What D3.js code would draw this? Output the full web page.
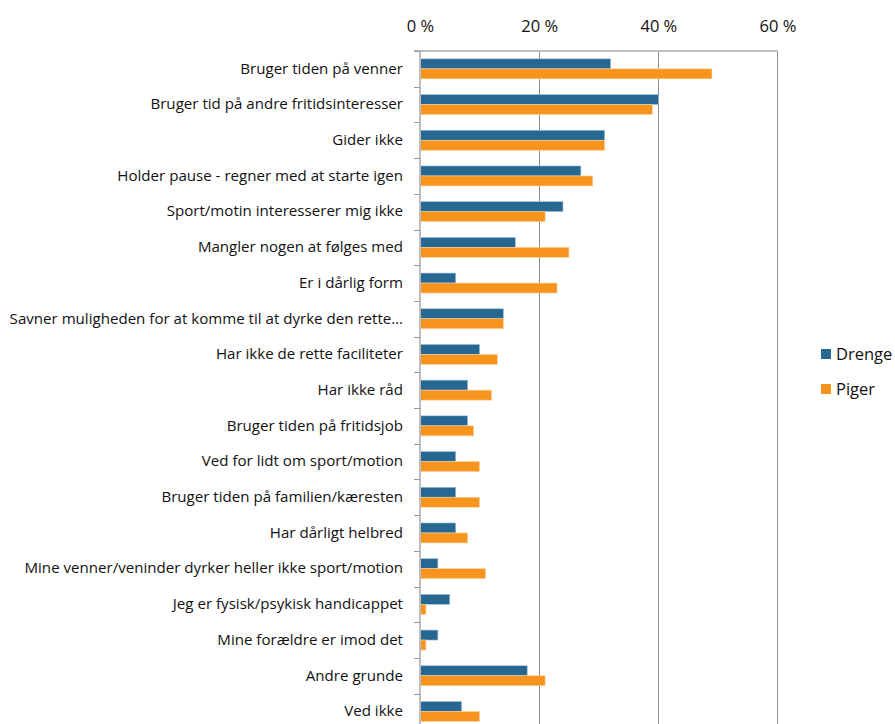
<!DOCTYPE html>
<html><head><meta charset="utf-8">
<script src="https://cdn.jsdelivr.net/npm/d3@7"></script>
<style>body{margin:0;background:#fff;} svg{display:block;}</style>
</head><body>
<svg id="c" width="895" height="724"></svg>
<script>
const categories = [
 "Bruger tiden på venner",
 "Bruger tid på andre fritidsinteresser",
 "Gider ikke",
 "Holder pause - regner med at starte igen",
 "Sport/motin interesserer mig ikke",
 "Mangler nogen at følges med",
 "Er i dårlig form",
 "Savner muligheden for at komme til at dyrke den rette…",
 "Har ikke de rette faciliteter",
 "Har ikke råd",
 "Bruger tiden på fritidsjob",
 "Ved for lidt om sport/motion",
 "Bruger tiden på familien/kæresten",
 "Har dårligt helbred",
 "Mine venner/veninder dyrker heller ikke sport/motion",
 "Jeg er fysisk/psykisk handicappet",
 "Mine forældre er imod det",
 "Andre grunde",
 "Ved ikke"
];
const drenge = [32,40,31,27,24,16,6,14,10,8,8,6,6,6,3,5,3,18,7];
const piger  = [49,39,31,29,21,25,23,14,13,12,9,10,10,8,11,1,1,21,10];
const seriesNames = ["Drenge","Piger"];
const xTicks = [0,20,40,60];
const colors = ["#266892","#F7941D"];

const svg = d3.select("#c");
const font = "'Open Sans', sans-serif";
const x0 = 420, x1 = 777.5, yTop = 51, band = 35.7;
const x = d3.scaleLinear().domain([0,60]).range([x0,x1]);
const y = d3.scaleBand().domain(categories).range([yTop, yTop + band*categories.length]).paddingInner(0).paddingOuter(0);
const sub = d3.scaleBand().domain(seriesNames).range([0, 20]);

// vertical gridlines
svg.append("g").selectAll("line").data(xTicks.slice(1)).join("line")
  .attr("x1", d=>x(d)).attr("x2", d=>x(d)).attr("y1", yTop).attr("y2", 724)
  .attr("stroke", "#8c8c8c").attr("stroke-width", 1).attr("shape-rendering","crispEdges");

// top line
svg.append("line").attr("x1", 414).attr("x2", x1).attr("y1", yTop).attr("y2", yTop)
  .attr("stroke","#bdbdbd").attr("stroke-width",1.2).attr("shape-rendering","crispEdges");

// top axis labels
const xa = d3.axisTop(x).tickValues(xTicks).tickFormat(d=>d+" %").tickSize(0).tickPadding(0);
const gx = svg.append("g").attr("transform", `translate(0,32)`).call(xa);
gx.select(".domain").remove();
gx.selectAll("text").attr("font-family", font).attr("font-size", 16.5).attr("fill","#111").attr("dy", 0);

// bars
const rows = svg.append("g").selectAll("g").data(categories).join("g")
  .attr("transform", d=>`translate(0,${y(d) + (band-20)/2})`);
rows.each(function(c,i){
  const g = d3.select(this);
  [drenge[i], piger[i]].forEach((v,k)=>{
    g.append("rect").attr("x", x(0)).attr("y", sub(seriesNames[k]))
      .attr("width", x(v)-x(0)).attr("height", sub.bandwidth())
      .attr("fill", colors[k]).attr("stroke", k===0? "#a9c3d6":"#fbd3a3").attr("stroke-width",0.6);
  });
});

// left axis
const ya = d3.axisLeft(y).tickSize(0).tickPadding(17);
const gy = svg.append("g").attr("transform", `translate(${x0},0)`).call(ya);
gy.select(".domain").remove();
gy.selectAll("text").attr("font-family", font).attr("font-size", 15.1).attr("fill","#111");
svg.append("line").attr("x1", x0).attr("x2", x0).attr("y1", yTop).attr("y2", 724)
  .attr("stroke","#bdbdbd").attr("stroke-width",2).attr("shape-rendering","crispEdges");
svg.append("g").selectAll("line").data(d3.range(categories.length+1)).join("line")
  .attr("x1", 414).attr("x2", x0).attr("y1", d=>Math.round(yTop + d*band)+0.5).attr("y2", d=>Math.round(yTop + d*band)+0.5)
  .attr("stroke","#9a9a9a").attr("stroke-width",1);

// legend
const lg = svg.append("g").attr("transform","translate(821,349)");
seriesNames.forEach((s,k)=>{
  const g = lg.append("g").attr("transform", `translate(0,${k*35})`);
  g.append("rect").attr("width",10).attr("height",10).attr("fill",colors[k]);
  g.append("text").attr("x",15).attr("y",11).text(s)
    .attr("font-family", font).attr("font-size", 16.5).attr("fill","#111");
});
</script>
</body></html>
